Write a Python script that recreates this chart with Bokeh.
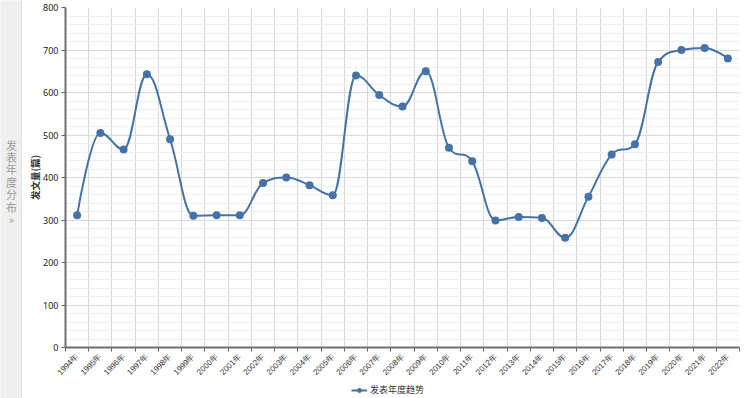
import math
from bokeh.plotting import figure
from bokeh.layouts import row, column
from bokeh.models import (Range1d, FixedTicker, SingleIntervalTicker, Legend, LegendItem, Span)
from bokeh.core.properties import value
from bokeh.embed import file_html
from bokeh.resources import INLINE

# ---------------- data ----------------
years = [str(y) + "年" for y in range(1994, 2023)]
counts = [311, 505, 466, 643, 490, 310, 311, 311, 387, 400, 382, 358, 640, 594,
          567, 650, 470, 438, 299, 307, 305, 258, 355, 454, 478, 672, 700, 705, 680]
series_name = "发表年度趋势"
y_title = "发文量(篇)"
sidebar_chars = ["发", "表", "年", "度", "分", "布", "»"]

BLUE = "#4572A7"
FONT = "Noto Sans CJK SC"

xs = list(range(len(years)))

# ---------- Highcharts-style spline control points ----------
def spline_segments(xv, yv, smoothing=1.5):
    n = len(xv)
    left = [None] * n
    right = [None] * n
    denom = smoothing + 1
    for i in range(n):
        px, py = xv[i], yv[i]
        if 0 < i < n - 1:
            lx, ly = xv[i - 1], yv[i - 1]
            nx, ny = xv[i + 1], yv[i + 1]
            lcx = (smoothing * px + lx) / denom
            lcy = (smoothing * py + ly) / denom
            rcx = (smoothing * px + nx) / denom
            rcy = (smoothing * py + ny) / denom
            if rcx != lcx:
                corr = (rcy - lcy) * (rcx - px) / (rcx - lcx) + py - rcy
                lcy += corr
                rcy += corr
                if lcy > ly and lcy > py:
                    lcy = max(ly, py); rcy = 2 * py - lcy
                elif lcy < ly and lcy < py:
                    lcy = min(ly, py); rcy = 2 * py - lcy
                if rcy > ny and rcy > py:
                    rcy = max(ny, py); lcy = 2 * py - rcy
                elif rcy < ny and rcy < py:
                    rcy = min(ny, py); lcy = 2 * py - rcy
            left[i] = (lcx, lcy)
            right[i] = (rcx, rcy)
        else:
            left[i] = (px, py)
            right[i] = (px, py)
    seg = dict(x0=[], y0=[], x1=[], y1=[], cx0=[], cy0=[], cx1=[], cy1=[])
    for i in range(1, n):
        seg["x0"].append(xv[i - 1]); seg["y0"].append(yv[i - 1])
        seg["x1"].append(xv[i]); seg["y1"].append(yv[i])
        seg["cx0"].append(right[i - 1][0]); seg["cy0"].append(right[i - 1][1])
        seg["cx1"].append(left[i][0]); seg["cy1"].append(left[i][1])
    return seg

seg = spline_segments(xs, counts)

# ---------------- main chart ----------------
p = figure(width=727, height=383, output_backend="svg", toolbar_location=None,
           x_range=Range1d(-0.5, len(years) - 0.5), y_range=Range1d(0, 800),
           min_border_left=43, min_border_right=10, min_border_top=7, min_border_bottom=34)
p.outline_line_color = None
p.background_fill_color = "white"
p.border_fill_color = "white"

p.bezier(line_color=BLUE, line_width=2, **seg)
p.scatter(xs, counts, size=8, fill_color=BLUE, line_color=BLUE, line_width=0)

# x axis
xt = FixedTicker(ticks=xs, minor_ticks=[i - 0.5 for i in range(len(years) + 1)])
p.xaxis.ticker = xt
p.xaxis.major_label_overrides = {i: years[i] for i in xs}
p.xaxis.major_label_orientation = math.pi / 4
p.xaxis.major_tick_line_color = None
p.xaxis.major_tick_out = 0
p.xaxis.major_tick_in = 0
p.xaxis.minor_tick_line_color = "#666666"
p.xaxis.minor_tick_out = 4
p.xaxis.minor_tick_in = 0
p.xaxis.axis_line_color = "#6e6e6e"
p.xaxis.axis_line_width = 2
p.xaxis.major_label_text_font = "Liberation Sans"
p.xaxis.major_label_text_font_size = "8px"
p.xaxis.major_label_text_color = "#333333"
p.xaxis.major_label_standoff = 4

p.xgrid.ticker = xt
p.xgrid.grid_line_color = None
p.xgrid.minor_grid_line_color = "#d9d9d9"

# y axis
yt = SingleIntervalTicker(interval=100, num_minor_ticks=5)
p.yaxis.ticker = yt
p.yaxis.minor_tick_line_color = None
p.yaxis.major_tick_line_color = "#666666"
p.yaxis.major_tick_out = 4
p.yaxis.major_tick_in = 0
p.yaxis.axis_line_color = "#6e6e6e"
p.yaxis.axis_line_width = 2
p.yaxis.major_label_text_font = "Noto Sans"
p.yaxis.major_label_text_font_size = "9px"
p.yaxis.major_label_text_color = "#222222"
p.yaxis.major_label_standoff = 3
p.yaxis.axis_label = y_title
p.yaxis.axis_label_text_font = FONT
p.yaxis.axis_label_text_font_size = "9.5px"
p.yaxis.axis_label_text_font_style = "bold"
p.yaxis.axis_label_text_color = "#333333"
p.yaxis.axis_label_standoff = -2

p.ygrid.ticker = yt
p.ygrid.grid_line_color = "#d8d8d8"
p.ygrid.minor_grid_line_color = "#efefef"

# ---------------- legend strip ----------------
lg = figure(width=727, height=15, output_backend="svg", toolbar_location=None,
            x_range=Range1d(0, 1), y_range=Range1d(0, 1),
            min_border=0, min_border_left=0, min_border_right=0,
            min_border_top=0, min_border_bottom=0)
lg.axis.visible = False
lg.grid.visible = False
lg.outline_line_color = None
nan = float("nan")
l_line = lg.line(x=[nan], y=[nan], line_color=BLUE, line_width=2)
l_pt = lg.scatter(x=[nan], y=[nan], size=8, fill_color=BLUE, line_color=BLUE, line_width=0)
legend = Legend(items=[LegendItem(label=series_name, renderers=[l_line, l_pt])],
                location=(286, 2), orientation="horizontal",
                padding=0, margin=0, spacing=0, glyph_width=16, glyph_height=12,
                label_height=12, label_standoff=3,
                background_fill_alpha=0, border_line_color=None,
                label_text_font=FONT, label_text_font_size="9px",
                label_text_color="#333333")
lg.add_layout(legend)

# ---------------- sidebar ----------------
s = figure(width=22, height=398, output_backend="svg", toolbar_location=None,
           x_range=Range1d(0, 22), y_range=Range1d(398, 0),
           min_border=0, min_border_left=0, min_border_right=0,
           min_border_top=0, min_border_bottom=0)
s.axis.visible = False
s.grid.visible = False
s.outline_line_color = None
s.background_fill_color = "#efefef"
s.border_fill_color = "#efefef"
s.text(x=[11] * len(sidebar_chars), y=[144 + 12.4 * i for i in range(len(sidebar_chars))],
       text=sidebar_chars, text_font=value(FONT), text_font_size="11px",
       text_color="#999999", text_align="center", text_baseline="middle")
s.add_layout(Span(location=21.5, dimension="height", line_color="#d6d6d6", line_width=1))

layout = row(s, column(p, lg))
open("out.html", "w").write(file_html(layout, INLINE))
